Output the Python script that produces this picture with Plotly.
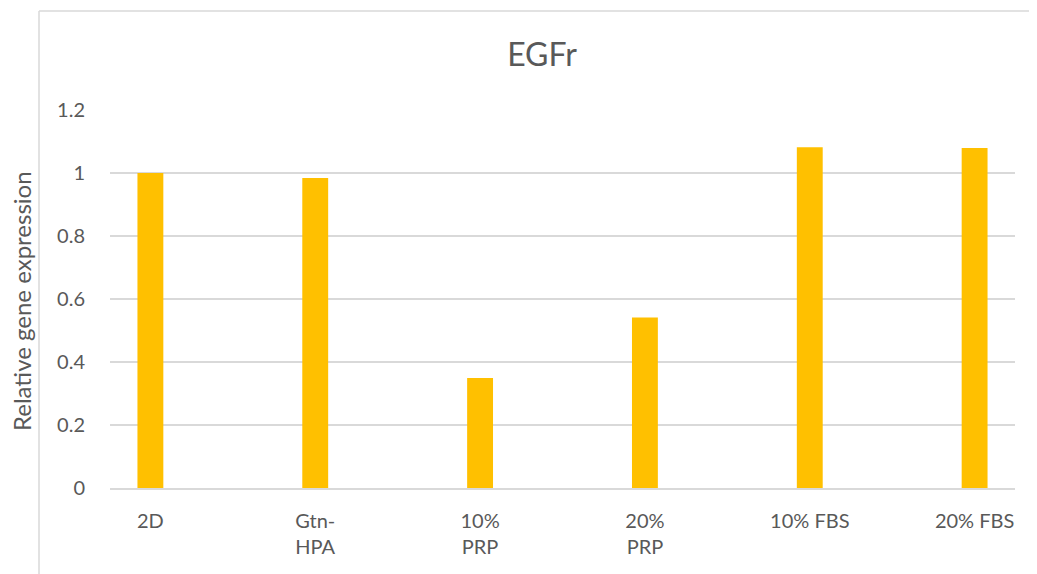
import plotly.graph_objects as go

categories = ["2D", "Gtn-HPA", "10% PRP", "20% PRP", "10% FBS", "20% FBS"]
tick_labels = ["2D", "Gtn-<br>HPA", "10%<br>PRP", "20%<br>PRP", "10% FBS", "20% FBS"]
values = [1.0, 0.984, 0.349, 0.541, 1.082, 1.079]
y_ticks = [0, 0.2, 0.4, 0.6, 0.8, 1.0, 1.2]
y_tick_labels = ["0", "0.2", "0.4", "0.6", "0.8", "1", "1.2"]

# page body has an 8px margin; work in screen coordinates and subtract it
OFF = 8
W, H = 1037 - OFF, 574 - OFF
L, R, T, B = 110 - OFF, 1037 - 1015, 110 - OFF, 574 - 488
pw, ph = W - L - R, H - T - B

def px_x(sx):
    return (sx - OFF - L) / pw

def px_y(sy):
    return (H - B - (sy - OFF)) / ph

FONT = "Lato, 'Open Sans', sans-serif"
GREY = "#595959"

fig = go.Figure(go.Bar(
    x=categories, y=values,
    marker=dict(color="#FFC000", line=dict(width=0)),
    width=0.157,
))

fig.update_layout(
    width=W, height=H,
    margin=dict(l=L, r=R, t=T, b=B, autoexpand=False),
    paper_bgcolor="white", plot_bgcolor="white",
    font=dict(family=FONT, color=GREY, size=20),
    showlegend=False,
    title=dict(text="EGFr", x=(542 - OFF) / W, xref="container", xanchor="center",
               y=1 - (55 - OFF) / H, yref="container", yanchor="middle",
               font=dict(size=32, color=GREY, family=FONT)),
    xaxis=dict(
        type="category", range=[-0.245, 5.245],
        tickvals=categories, ticktext=tick_labels,
        showgrid=False, showline=True, linecolor="#d9d9d9", linewidth=1.5,
        ticks="", ticklabelstandoff=14,
        tickfont=dict(size=20, color=GREY, family=FONT),
    ),
    yaxis=dict(
        range=[0, 1.2], tickvals=y_ticks, ticktext=y_tick_labels,
        showgrid=True, gridcolor="#d9d9d9", gridwidth=1.5,
        zeroline=False, showline=False, ticks="", ticklabelstandoff=24,
        tickfont=dict(size=20, color=GREY, family=FONT),
    ),
    annotations=[dict(
        text="Relative gene expression", textangle=-90,
        x=px_x(21), y=px_y(301), xref="paper", yref="paper",
        xanchor="center", yanchor="middle", showarrow=False,
        font=dict(size=24, color=GREY, family=FONT),
    )],
    shapes=[
        dict(type="line", xref="paper", yref="paper",
             x0=px_x(39), x1=px_x(1045), y0=px_y(11), y1=px_y(11),
             line=dict(color="#d9d9d9", width=1.5)),
        dict(type="line", xref="paper", yref="paper",
             x0=px_x(39), x1=px_x(39), y0=px_y(11), y1=px_y(580),
             line=dict(color="#d9d9d9", width=1.5)),
    ],
)

fig.write_html("out.html")
